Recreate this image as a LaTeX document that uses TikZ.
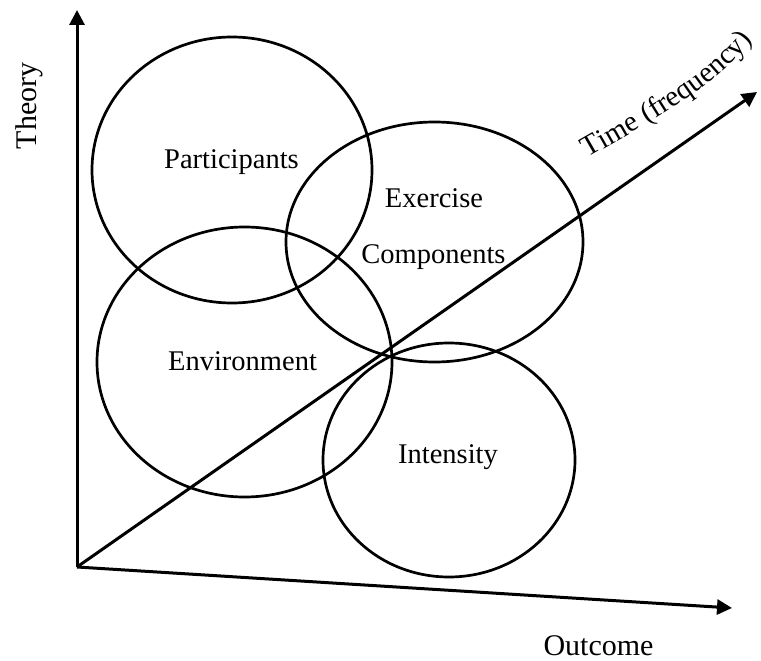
\documentclass[tikz,border=0pt]{standalone}
\usepackage{fontspec}
\setmainfont{Liberation Serif}
\usetikzlibrary{arrows.meta,shapes.geometric,decorations.text}
\begin{document}
\begin{tikzpicture}[x=1pt,y=1pt,
  blob/.style={draw,ellipse,line width=2.7pt,inner sep=0pt},
  axis/.style={line width=3pt,-{Triangle[length=15pt,width=15pt]}},
  lbl/.style={font=\fontsize{28.5}{32}\selectfont,anchor=base,inner sep=0pt}]
\useasboundingbox (0,0) rectangle (761,-661);
% ellipses
\node[blob,minimum width=280pt,minimum height=266pt] (part) at (232,-170) {};
\node[blob,minimum width=297pt,minimum height=240pt] (exer) at (434.5,-242) {};
\node[blob,minimum width=295pt,minimum height=270pt] (env) at (244.5,-362) {};
\node[blob,minimum width=252pt,minimum height=234pt] (inten) at (449,-460) {};
% axes
\coordinate (O) at (77,-567);
\coordinate (ytip) at (77,-10);
\coordinate (xtip) at (732,-608);
\coordinate (ttip) at (757,-92);
\draw[axis] (O) -- (ytip);
\draw[axis] (O) -- (xtip);
\draw[axis] (O) -- (ttip);
% labels
\node[lbl] (lp) at (231.5,-168) {Participants};
\node[lbl] (le1) at (434,-207) {Exercise};
\node[lbl] (le2) at (433.5,-263) {Components};
\node[lbl] (lenv) at (242.5,-370) {Environment};
\node[lbl] (li) at (448,-463) {Intensity};
\node[lbl,font=\fontsize{30}{34}\selectfont] (lo) at (598.5,-655) {Outcome};
\node[lbl,font=\fontsize{30}{34}\selectfont,rotate=90] (lt) at (36,-106) {Theory};
\path[decorate,decoration={text along path,text align=left,
  text={|\fontsize{29}{32}\selectfont|Time (frequency)}}]
  (588,-158) .. controls (650,-122) and (730,-82) .. (768,-18);
\end{tikzpicture}
\end{document}
